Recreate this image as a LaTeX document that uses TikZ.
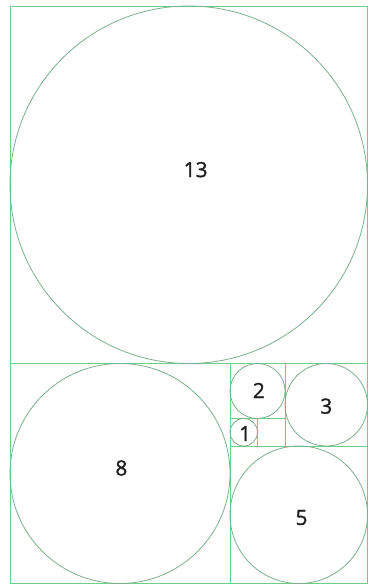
\documentclass[tikz,border=0pt]{standalone}
\usepackage{fontspec}
\setmainfont[FakeBold=1.2]{Open Sans}
\definecolor{sqgreen}{RGB}{110,205,135}
\definecolor{cigreen}{RGB}{125,175,140}
\definecolor{numgray}{RGB}{30,30,30}
\begin{document}
\begin{tikzpicture}[x=27.5bp,y=27.5bp,
    sq/.style={draw=sqgreen,line width=0.9bp},
    circ/.style={draw=cigreen,line width=0.8bp},
    num/.style={font=\fontsize{21}{21}\selectfont,text=numgray,inner sep=0pt}]
    \useasboundingbox (-0.364,-0.127) rectangle (13.054,21.218);
    % squares
    \draw[sq] (0,0) rectangle (13,21);
    \draw[sq] (0,8) -- (13,8);
    \draw[sq] (8,0) -- (8,8);
    \draw[sq] (8,5) -- (13,5);
    \draw[sq] (10,5) -- (10,8);
    \draw[sq] (8,6) -- (10,6);
    \draw[sq] (9,5) -- (9,6);
    % circles
    \draw[circ] (6.5,14.5) circle (6.5);
    \draw[circ] (4,4) circle (4);
    \draw[circ] (10.5,2.5) circle (2.5);
    \draw[circ] (11.5,6.5) circle (1.5);
    \draw[circ] (9,7) circle (1);
    \draw[circ] (8.5,5.5) circle (0.5);
    % numbers
    \node[num] (n13) at (6.75,15.05) {13};
    \node[num] (n8) at (4.05,4.2) {8};
    \node[num] (n5) at (10.6,2.4) {5};
    \node[num] (n3) at (11.5,6.45) {3};
    \node[num] (n2) at (9.05,7.02) {2};
    \node[num] (n1) at (8.55,5.45) {1};
\end{tikzpicture}
\end{document}
